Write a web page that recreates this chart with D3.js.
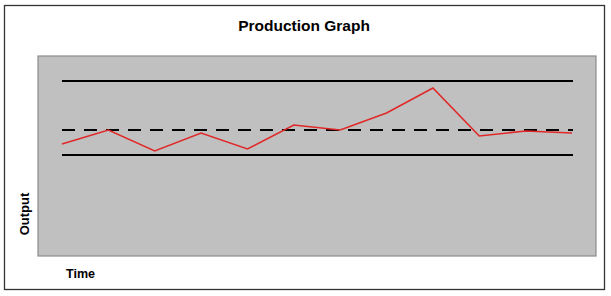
<!DOCTYPE html>
<html>
<head>
<meta charset="utf-8">
<script src="https://cdn.jsdelivr.net/npm/d3@7"></script>
<style>
  body { margin: 0; background: #fff; }
  #content { width: 611px; height: 296px; }
  text { font-family: "Liberation Sans", Arial, sans-serif; font-weight: bold; fill: #000; }
</style>
</head>
<body>
<div id="content"></div>
<script>
// production output per time period
var periods = [1, 2, 3, 4, 5, 6, 7, 8, 9, 10, 11, 12];
var output = [56, 63, 52.5, 61.5, 53.5, 65.5, 63, 71.5, 84, 60, 62.5, 61.5];
// control limits
var upperLimit = 87.5;
var meanLine = 63;
var lowerLimit = 50.5;

(function(d3) {
    var width = 611, height = 296;
    var plot = {left: 38, top: 56, right: 596, bottom: 256};

    var svg = d3.select("#content").append("svg")
        .attr("viewBox", [0, 0, width, height])
        .attr("width", width).attr("height", height);

    // outer frame
    svg.append("rect")
        .attr("x", 4.5).attr("y", 5.5)
        .attr("width", 600).attr("height", 284)
        .attr("fill", "#fff")
        .attr("stroke", "#333").attr("stroke-width", 1.3);

    svg.append("text")
        .attr("x", 304).attr("y", 31)
        .attr("text-anchor", "middle")
        .attr("font-size", 15.5)
        .text("Production Graph");

    svg.append("rect")
        .attr("x", plot.left).attr("y", plot.top)
        .attr("width", plot.right - plot.left).attr("height", plot.bottom - plot.top)
        .attr("fill", "#c0c0c0")
        .attr("stroke", "#8c8c8c").attr("stroke-width", 1.2);

    var x = d3.scaleLinear()
        .domain(d3.extent(periods))
        .range([62, 572]);
    var y = d3.scaleLinear()
        .domain([0, 100])
        .range([plot.bottom, plot.top]);

    function hline(v, dash) {
        svg.append("line")
            .attr("x1", x(periods[0])).attr("x2", x(periods[periods.length - 1]) + 1)
            .attr("y1", y(v)).attr("y2", y(v))
            .attr("stroke", "#000")
            .attr("stroke-width", 2)
            .attr("stroke-dasharray", dash);
    }
    hline(upperLimit, null);
    hline(lowerLimit, null);
    hline(meanLine, "13,9");

    svg.append("path")
        .datum(periods.map(function(p, i) { return [p, output[i]]; }))
        .attr("fill", "none")
        .attr("stroke", "#e02828")
        .attr("stroke-width", 1.6)
        .attr("d", d3.line()
            .x(function(d) { return x(d[0]); })
            .y(function(d) { return y(d[1]); })
        );

    svg.append("text")
        .attr("transform", "translate(29,214) rotate(-90)")
        .attr("text-anchor", "middle")
        .attr("font-size", 13)
        .text("Output");

    svg.append("text")
        .attr("x", 66).attr("y", 278)
        .attr("font-size", 12.5)
        .text("Time");
})(d3);
</script>
</body>
</html>
